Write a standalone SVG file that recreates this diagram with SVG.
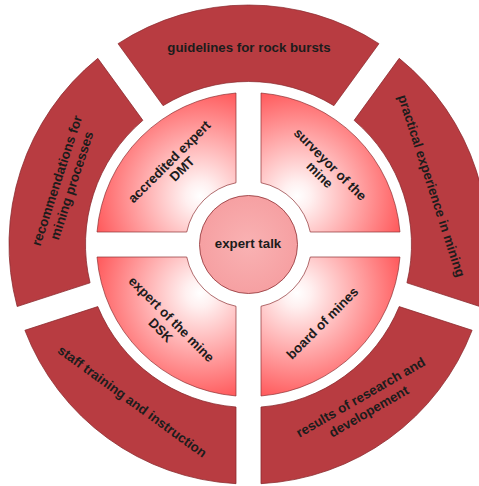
<svg xmlns="http://www.w3.org/2000/svg" width="479" height="486" viewBox="0 0 479 486">
<defs>
<radialGradient id="innerGrad" gradientUnits="userSpaceOnUse" cx="200" cy="196" r="118">
<stop offset="0" stop-color="#ffffff"/>
<stop offset="0.12" stop-color="#fff0f0"/>
<stop offset="1" stop-color="#ff4a4c"/>
</radialGradient>
<radialGradient id="centerGrad" cx="0.5" cy="0.5" r="0.5">
<stop offset="0" stop-color="#f9b2b3"/>
<stop offset="1" stop-color="#f6a0a2"/>
</radialGradient>
<style>
.outer{fill:#b83c41;stroke:#8a2a2e;stroke-width:0.7}
.inner{fill:url(#innerGrad);stroke:#8e3034;stroke-width:0.7}
.hub{fill:url(#centerGrad);stroke:#8e3034;stroke-width:0.8}
text{font-family:"Liberation Sans",Arial,sans-serif;font-weight:bold;font-size:13.3px;fill:#1c1c1c;text-anchor:middle}
</style>
</defs>
<rect width="479" height="486" fill="#ffffff"/>

<g id="guidelines">
<path class="outer" d="M118.03,43.66 A239.5,239.5 0 0 1 378.97,43.66 L333.92,105.67 A163,163 0 0 0 163.08,105.67 Z"/>
<text x="249" y="52">guidelines for rock bursts</text>
</g>
<g id="practical">
<path class="outer" transform="rotate(72 248.5 244.5)" d="M118.03,43.66 A239.5,239.5 0 0 1 378.97,43.66 L333.92,105.67 A163,163 0 0 0 163.08,105.67 Z"/>
<g transform="translate(431.5,185.8) rotate(72)"><text y="4.5">practical experience in mining</text></g>
</g>
<g id="results">
<path class="outer" transform="rotate(144 248.5 244.5)" d="M118.03,43.66 A239.5,239.5 0 0 1 378.97,43.66 L333.92,105.67 A163,163 0 0 0 163.08,105.67 Z"/>
<g transform="translate(364.6,404.2) rotate(-30)"><text y="-3.5">results of research and</text><text y="12.8">developement</text></g>
</g>
<g id="staff">
<path class="outer" transform="rotate(216 248.5 244.5)" d="M118.03,43.66 A239.5,239.5 0 0 1 378.97,43.66 L333.92,105.67 A163,163 0 0 0 163.08,105.67 Z"/>
<g transform="translate(132.2,401.5) rotate(36)"><text y="4.5">staff training and instruction</text></g>
</g>
<g id="recommendations">
<path class="outer" transform="rotate(288 248.5 244.5)" d="M118.03,43.66 A239.5,239.5 0 0 1 378.97,43.66 L333.92,105.67 A163,163 0 0 0 163.08,105.67 Z"/>
<g transform="translate(64.2,183) rotate(-72)"><text y="-3.1">recommendations for</text><text y="12.5">mining processes</text></g>
</g>

<g id="accredited">
<path class="inner" d="M97.02,232 A152,152 0 0 1 236,93.02 L236,182.75 A63,63 0 0 0 186.75,232 Z"/>
<g transform="translate(175.4,165) rotate(-45)"><text x="-2" y="-2.1">accredited expert</text><text x="2" y="12">DMT</text></g>
</g>
<g id="surveyor">
<path class="inner" transform="rotate(90 248.5 244.5)" d="M97.02,232 A152,152 0 0 1 236,93.02 L236,182.75 A63,63 0 0 0 186.75,232 Z"/>
<g transform="translate(325,169.5) rotate(45)"><text y="-2.7">surveyor of the</text><text y="12.1">mine</text></g>
</g>
<g id="board">
<path class="inner" transform="rotate(180 248.5 244.5)" d="M97.02,232 A152,152 0 0 1 236,93.02 L236,182.75 A63,63 0 0 0 186.75,232 Z"/>
<g transform="translate(322.3,323) rotate(-45)"><text y="4.7">board of mines</text></g>
</g>
<g id="expertmine">
<path class="inner" transform="rotate(270 248.5 244.5)" d="M97.02,232 A152,152 0 0 1 236,93.02 L236,182.75 A63,63 0 0 0 186.75,232 Z"/>
<g transform="translate(166.2,324.5) rotate(45)"><text y="-3">expert of the mine</text><text y="12.5">DSK</text></g>
</g>

<g id="experttalk">
<circle class="hub" cx="248.5" cy="244.5" r="49"/>
<text x="248" y="248">expert talk</text>
</g>
</svg>
